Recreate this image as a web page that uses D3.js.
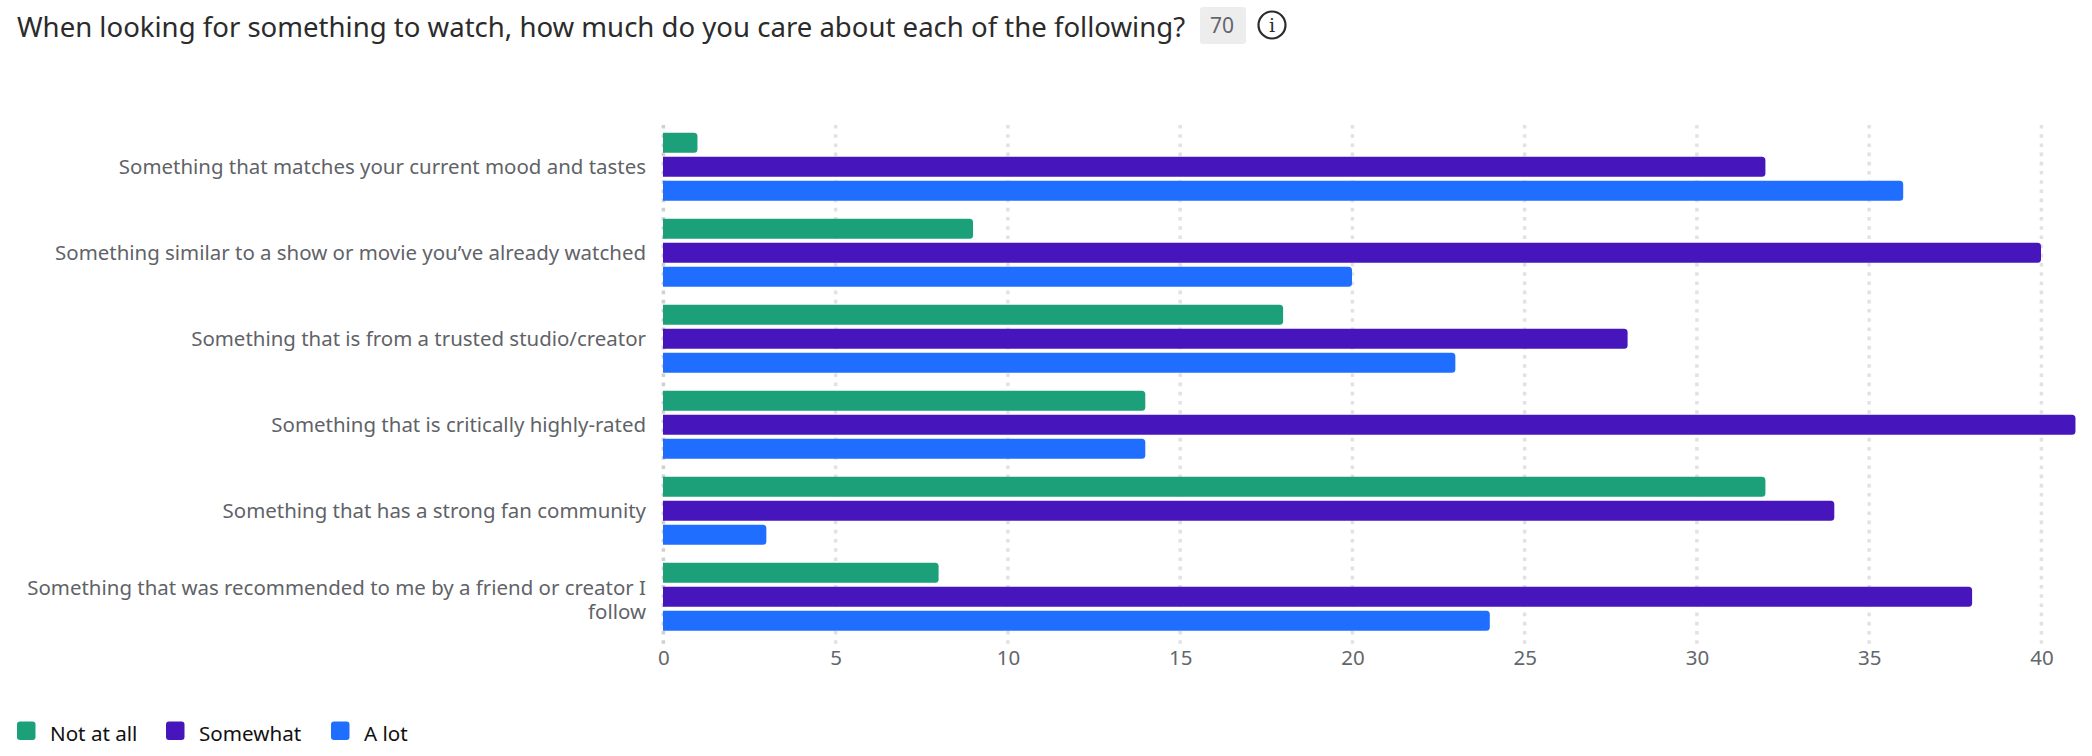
<!DOCTYPE html>
<html><head><meta charset="utf-8">
<script src="https://cdn.jsdelivr.net/npm/d3@7"></script>
<style>
html,body{margin:0;padding:0;background:#fff;width:2092px;height:756px;overflow:hidden}
svg{display:block}
text{font-family:"Noto Sans",sans-serif}
</style></head><body>
<svg id="c" width="2092" height="756"></svg>
<script>
const titleText = "When looking for something to watch, how much do you care about each of the following?";
const countLabel = "70";
const categories = [
 "Something that matches your current mood and tastes",
 "Something similar to a show or movie you\u2019ve already watched",
 "Something that is from a trusted studio/creator",
 "Something that is critically highly-rated",
 "Something that has a strong fan community",
 "Something that was recommended to me by a friend or creator I follow"
];
const seriesNames = ["Not at all","Somewhat","A lot"];
const seriesColors = ["#1ba07a","#4616bc","#206eff"];
const notAtAll = [1,9,18,14,32,8];
const somewhat = [32,40,28,41,34,38];
const aLot = [36,20,23,14,3,24];
const xTicks = [0,5,10,15,20,25,30,35,40];
const seriesValues = [notAtAll,somewhat,aLot];

const svg = d3.select("#c");
const x = d3.scaleLinear().domain([0,40]).range([663,2041]);
const y = d3.scaleBand().domain(categories).range([123.7,639.7]).paddingInner(18/86).paddingOuter(9/86);
const ySub = d3.scaleBand().domain(seriesNames).range([0,y.bandwidth()]).paddingInner(4/24).paddingOuter(0);

// grid
svg.append("g").selectAll("line").data(xTicks).join("line")
 .attr("x1",d=>x(d)+0.4).attr("x2",d=>x(d)+0.4).attr("y1",125).attr("y2",645)
 .attr("stroke",d=>d===0?"#d0d0d0":"#e2e2e2").attr("stroke-width",3.5).attr("stroke-dasharray","3.6 5.6");

// bars, rounded on the value end only
const barPath = (v,top,h)=>{
  const x0=x(0),x1=x(v),r=Math.min(3.5,(x1-x0)/2);
  return `M${x0},${top}H${x1-r}Q${x1},${top} ${x1},${top+r}V${top+h-r}Q${x1},${top+h} ${x1-r},${top+h}H${x0}Z`;
};
seriesNames.forEach((s,si)=>{
  svg.append("g").selectAll("path").data(seriesValues[si]).join("path")
   .attr("fill",seriesColors[si])
   .attr("d",(d,i)=>barPath(d,y(categories[i])+ySub(s),ySub.bandwidth()));
});

// x axis
const gx = svg.append("g").attr("transform","translate(0.4,645)")
 .call(d3.axisBottom(x).tickValues(xTicks).tickSize(0).tickPadding(5));
gx.select(".domain").remove();
gx.selectAll("text").attr("font-size",20.5).attr("fill","#63666b").style("font-family",'"Noto Sans",sans-serif');

// y axis with wrapped labels
const gy = svg.append("g").attr("transform","translate(646,1)")
 .call(d3.axisLeft(y).tickSize(0).tickPadding(0));
gy.select(".domain").remove();
gy.selectAll("text").attr("font-size",20.45).attr("fill","#5f6368").style("font-family",'"Noto Sans",sans-serif')
 .each(function(d){
   const t=d3.select(this);
   const cut=" I follow";
   if(d.endsWith(cut)){
     t.text(null).attr("dy",null);
     t.append("tspan").attr("x",0).attr("y",-9.5).attr("dy","0.32em").text(d.slice(0,-7));
     t.append("tspan").attr("x",0).attr("y",14.5).attr("dy","0.32em").text("follow");
   }
 });

// title
svg.append("text").attr("x",17).attr("y",37).attr("font-size",27.56).attr("fill","#2b2b2b").text(titleText);
svg.append("rect").attr("x",1200).attr("y",7).attr("width",46).attr("height",37).attr("rx",3).attr("fill","#ededed");
svg.append("text").attr("x",1222).attr("y",33).attr("text-anchor","middle").attr("font-size",21).attr("fill","#63666b").text(countLabel);
const info = svg.append("g").attr("transform","translate(1272,25)");
info.append("circle").attr("r",13.5).attr("fill","none").attr("stroke","#2b2b2b").attr("stroke-width",2.2);
info.append("text").attr("y",7).attr("text-anchor","middle").attr("font-size",19).attr("fill","#2b2b2b").style("font-family",'"DejaVu Serif",serif').text("i");

// legend
const legendX = [17,166,331], legendTextX=[50,199,364];
const lg = svg.append("g").selectAll("g").data(seriesNames).join("g");
lg.append("rect").attr("x",(d,i)=>legendX[i]).attr("y",721.5).attr("width",18.5).attr("height",18.5).attr("rx",3).attr("fill",(d,i)=>seriesColors[i]);
lg.append("text").attr("x",(d,i)=>legendTextX[i]).attr("y",741).attr("font-size",20.6).attr("fill","#111").text(d=>d);
</script>
</body></html>
